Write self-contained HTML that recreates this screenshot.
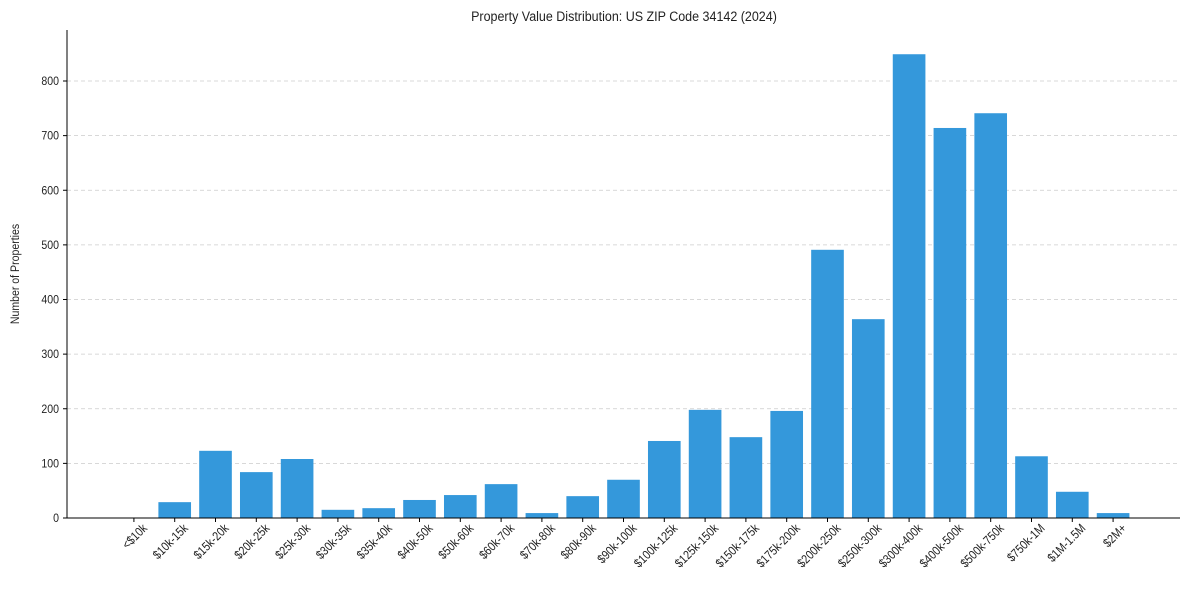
<!DOCTYPE html>
<html><head><meta charset="utf-8"><style>
body{margin:0;background:#fff;}
svg text{font-family:"Liberation Sans",Arial,sans-serif;fill:#222;}
</style></head><body>
<svg id="chart" width="1189" height="590">
<text x="624" y="21" font-size="13.6" text-anchor="middle" transform="translate(624,0) scale(0.92,1) translate(-624,0)">Property Value Distribution: US ZIP Code 34142 (2024)</text>
<text transform="translate(19,274) rotate(-90) scale(0.88,1)" font-size="12" text-anchor="middle">Number of Properties</text>
<g id="grid"></g><g id="bars"></g><g id="axes"></g>
</svg>
<script>
const categories=["<$10k","$10k-15k","$15k-20k","$20k-25k","$25k-30k","$30k-35k","$35k-40k","$40k-50k","$50k-60k","$60k-70k","$70k-80k","$80k-90k","$90k-100k","$100k-125k","$125k-150k","$150k-175k","$175k-200k","$200k-250k","$250k-300k","$300k-400k","$400k-500k","$500k-750k","$750k-1M","$1M-1.5M","$2M+"];
const values=[0,29,123,84,108,15,18,33,42,62,9,40,70,141,198,148,196,491,364,849,714,741,113,48,9];
const yTicks=[0,100,200,300,400,500,600,700,800];
const NS="http://www.w3.org/2000/svg";
const L=67,R=1180,T=30,B=518;
const n=categories.length;
const xmin=-0.4-0.05*(n-1+0.8),xmax=n-1+0.4+0.05*(n-1+0.8);
const x=i=>L+(i-xmin)/(xmax-xmin)*(R-L);
const y=v=>B-v*(B-81)/800;
const bw=0.8*(R-L)/(xmax-xmin);
function mk(tag,attrs,parent){const e=document.createElementNS(NS,tag);for(const k in attrs)e.setAttribute(k,attrs[k]);document.getElementById(parent).appendChild(e);return e;}
yTicks.forEach(t=>{
  if(t>0){const g=mk('line',{x1:L,x2:R,y1:y(t),y2:y(t),stroke:'#ccc','stroke-dasharray':'4,3','stroke-width':0.8},'grid');
  
  }
  const tk=mk('line',{x1:L-4,x2:L,y1:y(t),y2:y(t),stroke:'#000'},'axes');
  
  
  const lb=mk('text',{transform:`translate(${L-8},${y(t)+4}) scale(0.88,1)`,'font-size':12,'text-anchor':'end'},'axes');lb.textContent=t;
  
  
});
values.forEach((v,i)=>{
  const r=mk('rect',{x:x(i)-bw/2,y:y(v),width:bw,height:B-y(v),fill:'#3498db'},'bars');
  
  
  const tk=mk('line',{x1:x(i),x2:x(i),y1:B,y2:B+4,stroke:'#000'},'axes');
  
  
  const lb=mk('text',{transform:`translate(${x(i)+14},${B+11}) rotate(-45) scale(0.85,1)`,'font-size':12.5,'text-anchor':'end'},'axes');
  lb.textContent=categories[i];
  
  
});
const ax1=mk('line',{x1:L,x2:L,y1:T,y2:B,stroke:'#000'},'axes');


const ax2=mk('line',{x1:L,x2:R,y1:B,y2:B,stroke:'#000'},'axes');


</script>
</body></html>
